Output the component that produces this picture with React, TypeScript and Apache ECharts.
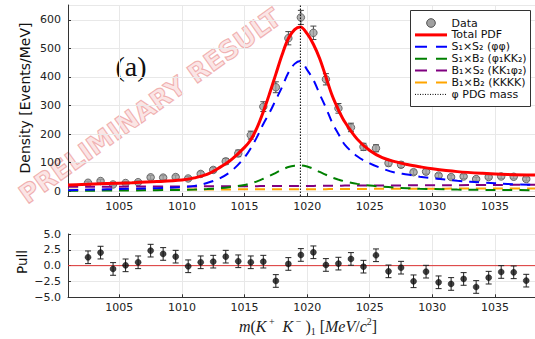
import React, { useEffect, useRef } from 'react';
import * as echarts from 'echarts';

// ---------- data ----------
const binCenters = [
  1002.5, 1003.5, 1004.5, 1005.5, 1006.5, 1007.5, 1008.5, 1009.5, 1010.5, 1011.5,
  1012.5, 1013.5, 1014.5, 1015.5, 1016.5, 1017.5, 1018.5, 1019.5, 1020.5, 1021.5,
  1022.5, 1023.5, 1024.5, 1025.5, 1026.5, 1027.5, 1028.5, 1029.5, 1030.5, 1031.5,
  1032.5, 1033.5, 1034.5, 1035.5, 1036.5, 1037.5,
];
const dataValues = [
  29, 35, 23, 28, 31, 48, 47, 49, 44, 60,
  74, 104, 132, 196, 296, 364, 536, 609, 555, 392,
  290, 223, 155, 150, 98, 92, 66, 68, 54, 49,
  51, 42, 49, 51, 50, 42,
];
const dataErrors = [
  5.4, 5.9, 4.8, 5.3, 5.6, 6.9, 6.9, 7, 6.6, 7.7,
  8.6, 10.2, 11.5, 14, 17.2, 19.1, 23.2, 24.7, 23.6, 19.8,
  17, 14.9, 12.4, 12.2, 9.9, 9.6, 8.1, 8.2, 7.3, 7,
  7.1, 6.5, 7, 7.1, 7.1, 6.5,
];
const pullValues = [
  1.32, 2.06, -0.52, 0.05, 0.53, 2.37, 1.85, 1.42, -0.1, 0.53,
  0.63, 1.42, 0.69, 0.53, 0.63, -2.42, 0.27, 1.69, 2.11, 0.11,
  0.32, 1.06, -0.16, 1.64, -0.9, -0.32, -2.47, -0.95, -2.63, -2.89,
  -2.1, -3.37, -1.9, -1.0, -1.05, -2.37,
];
const pullErrors = [
  1, 1, 1, 1, 1, 1, 1, 1, 1, 1,
  1, 1, 1, 1, 1, 1, 1, 1, 1, 1,
  1, 1, 1, 1, 1, 1, 1, 1, 1, 1,
  1, 1, 1, 1, 1, 1,
];

const modelX = [
  1000.9, 1002, 1004, 1006, 1008, 1010, 1011, 1012, 1013, 1014,
  1015, 1015.5, 1016, 1016.5, 1017, 1017.5, 1018, 1018.5, 1019, 1019.46,
  1020, 1020.5, 1021, 1021.5, 1022, 1022.5, 1023, 1024, 1025, 1026,
  1027, 1028, 1029, 1030, 1032, 1034, 1036, 1038.2,
];
const totalPdf = [
  21, 23, 26, 29, 33, 39, 46, 58, 82, 112,
  153, 180, 222, 278, 342, 410, 478, 535, 566, 575,
  552, 515, 465, 400, 335, 285, 243, 182, 142, 117,
  103, 93, 85, 78, 68, 62, 58, 56,
];
const s1s2 = [
  3, 4, 6, 8, 10, 14, 18, 28, 44, 72,
  118, 150, 190, 235, 275, 320, 365, 415, 446, 456,
  425, 390, 340, 292, 240, 200, 163, 122, 97, 79,
  65, 58, 50, 45, 36, 30, 25, 21,
];
const s1b2 = [
  1, 1, 1.5, 2, 3, 4, 5, 7, 10, 15,
  21, 27, 34, 43, 53, 64, 75, 84, 89, 90,
  86, 78, 67, 57, 47, 40, 34, 25, 19, 15,
  12, 10, 8, 7, 5, 4, 3.5, 3,
];
const b1s2 = [
  15, 15, 15, 15.5, 15.5, 16, 16, 16.5, 16.5, 17,
  17, 17, 17, 17.5, 17.5, 17.5, 17.5, 18, 18, 18,
  18, 18, 18.5, 18.5, 18.5, 18.5, 19, 19, 19, 19.5,
  19.5, 20, 20, 20, 20.5, 21, 21.5, 22,
];
const b1b2 = [
  4, 4, 4.5, 4.5, 5, 5, 5, 5.5, 5.5, 5.5,
  6, 6, 6, 6, 6, 6, 6, 6, 6.5, 6.5,
  6.5, 6.5, 6.5, 6.5, 7, 7, 7, 7, 7.5, 7.5,
  7.5, 8, 8, 8, 8.5, 8.5, 9, 9,
];
const phiPdgMass = [1019.461];
const yTickLabelsPull = [-5, -2.5, 0, 2.5, 5];

const legendLabels = [
  'Data',
  'Total PDF',
  'S₁×S₂ (φφ)',
  'S₁×B₂ (φ₁KK₂)',
  'B₁×S₂ (KK₁φ₂)',
  'B₁×B₂ (KKKK)',
  'φ PDG mass',
];

// ---------- layout constants ----------
const X_MIN = 1000.9;
const X_MAX = 1038.2;
const Y_MIN = -17.5;
const Y_MAX = 652.6;
const FONT = 'DejaVu Sans';

const zip = (xs: number[], ys: number[]) => xs.map((x, i) => [x, ys[i]]);

function errorBarRender(capHalf: number, color: string) {
  return (params: any, api: any) => {
    const x = api.value(0);
    const lo = api.coord([x, api.value(1)]);
    const hi = api.coord([x, api.value(2)]);
    const st = { stroke: color, lineWidth: 1 };
    return {
      type: 'group',
      children: [
        { type: 'line', shape: { x1: lo[0], y1: lo[1], x2: hi[0], y2: hi[1] }, style: st },
        { type: 'line', shape: { x1: lo[0] - capHalf, y1: lo[1], x2: lo[0] + capHalf, y2: lo[1] }, style: st },
        { type: 'line', shape: { x1: hi[0] - capHalf, y1: hi[1], x2: hi[0] + capHalf, y2: hi[1] }, style: st },
      ],
    };
  };
}

function buildOption(): any {
  const axisLine = { show: true, onZero: false, lineStyle: { color: '#333', width: 1 } };
  const splitLine = { show: true, lineStyle: { color: '#e8e8e8', width: 1 } };
  const axisTick = { show: true, inside: true, length: 3, lineStyle: { color: '#333' } };
  const labelBase = { color: '#222', fontSize: 11, fontFamily: FONT };

  const xAxisFor = (gridIndex: number) => ({
    type: 'value',
    gridIndex,
    min: X_MIN,
    max: X_MAX,
    splitNumber: 8,
    axisLine,
    axisTick,
    splitLine,
    axisLabel: {
      ...labelBase,
      margin: 5,
      showMinLabel: false,
      showMaxLabel: false,
      formatter: (v: number) => (Math.abs(v % 5) < 1e-6 ? String(v) : ''),
    },
  });

  const dashed = [10, 7];
  const curve = (name: string, ys: number[], color: string, width: number, type: any, z: number) => ({
    name,
    type: 'line',
    xAxisIndex: 0,
    yAxisIndex: 0,
    data: zip(modelX, ys),
    smooth: 0.35,
    showSymbol: false,
    symbol: 'none',
    silent: true,
    z,
    lineStyle: { color, width, type },
  });

  const legendY = [23, 34.9, 46.8, 58.7, 70.6, 82.5, 94.4];
  const lx1 = 415;
  const lx2 = 447;
  const legendEls: any[] = [
    {
      type: 'rect',
      shape: { x: 410.5, y: 10.5, width: 120, height: 96 },
      style: { fill: '#fff', stroke: '#333', lineWidth: 1 },
      z: 100,
    },
    {
      type: 'circle',
      shape: { cx: 431, cy: legendY[0], r: 4.3 },
      style: { fill: '#a0a0a0', stroke: '#505050', lineWidth: 1 },
      z: 101,
    },
    {
      type: 'line',
      shape: { x1: lx1, y1: legendY[1], x2: lx2, y2: legendY[1] },
      style: { stroke: '#ff0000', lineWidth: 3 },
      z: 101,
    },
  ];
  const dashColors = ['#0000ff', '#008000', '#800080', '#ffa500'];
  dashColors.forEach((c, i) => {
    legendEls.push({
      type: 'line',
      shape: { x1: lx1, y1: legendY[2 + i], x2: lx2, y2: legendY[2 + i] },
      style: { stroke: c, lineWidth: 2, lineDash: [12, 9] },
      z: 101,
    });
  });
  legendEls.push({
    type: 'line',
    shape: { x1: lx1, y1: legendY[6], x2: lx2, y2: legendY[6] },
    style: { stroke: '#000', lineWidth: 1, lineDash: [1, 1.5] },
    z: 101,
  });
  legendLabels.forEach((t, i) => {
    legendEls.push({
      type: 'text',
      x: 451.5,
      y: legendY[i],
      style: { text: t, fill: '#111', fontSize: 11, fontFamily: FONT, align: 'left', verticalAlign: 'middle' },
      z: 101,
    });
  });

  return {
    animation: false,
    backgroundColor: '#fff',
    grid: [
      { left: 68, top: 5, width: 467, height: 191, containLabel: false },
      { left: 68, top: 234, width: 467, height: 63.3, containLabel: false },
    ],
    xAxis: [xAxisFor(0), xAxisFor(1)],
    yAxis: [
      {
        type: 'value',
        gridIndex: 0,
        min: Y_MIN,
        max: Y_MAX,
        splitNumber: 6,
        axisLine,
        axisTick,
        splitLine,
        axisLabel: {
          ...labelBase,
          margin: 7,
          showMinLabel: false,
          showMaxLabel: false,
          formatter: (v: number) => (Math.abs(v % 100) < 1e-6 ? String(v) : ''),
        },
      },
      {
        type: 'value',
        gridIndex: 1,
        min: yTickLabelsPull[0],
        max: yTickLabelsPull[yTickLabelsPull.length - 1],
        interval: 2.5,
        axisLine,
        axisTick,
        splitLine,
        axisLabel: {
          ...labelBase,
          margin: 7,
          formatter: (v: number) => (v < 0 ? '−' : '') + Math.abs(v).toFixed(1),
        },
      },
    ],
    graphic: [
      {
        type: 'text',
        x: 150,
        y: 106,
        rotation: 0.62,
        z: -1,
        silent: true,
        style: {
          text: 'PRELIMINARY RESULT',
          fontSize: 26,
          fontWeight: 'bold',
          fontFamily: FONT,
          fill: 'rgba(235,120,120,0.20)',
          stroke: 'rgba(220,70,70,0.38)',
          lineWidth: 1.2,
          align: 'center',
          verticalAlign: 'middle',
        },
      },
      {
        type: 'text',
        x: 131,
        y: 66,
        style: {
          text: '(a)',
          fontSize: 28,
          fontFamily: 'Liberation Serif',
          fill: '#111',
          align: 'center',
          verticalAlign: 'middle',
        },
      },
      {
        type: 'text',
        x: 25,
        y: 98,
        rotation: Math.PI / 2,
        style: {
          text: 'Density [Events/MeV]',
          fontSize: 14,
          fontFamily: FONT,
          fill: '#111',
          align: 'center',
          verticalAlign: 'middle',
        },
      },
      {
        type: 'text',
        x: 22,
        y: 262,
        rotation: Math.PI / 2,
        style: {
          text: 'Pull',
          fontSize: 13.5,
          fontFamily: FONT,
          fill: '#111',
          align: 'center',
          verticalAlign: 'middle',
        },
      },
      {
        type: 'text',
        x: 308,
        y: 326,
        style: {
          text: '{i|m}{r|(}{i|K}{sup| +}{r|  }{i|K}{sup| −}{r| )}{sub|1}{r| [}{i|MeV}{r|/}{i|c}{sup|2}{r|]}',
          align: 'center',
          verticalAlign: 'middle',
          fill: '#222',
          rich: {
            i: { fontFamily: 'Liberation Serif', fontStyle: 'italic', fontSize: 16, lineHeight: 20, verticalAlign: 'middle', fill: '#222' },
            r: { fontFamily: 'Liberation Serif', fontSize: 16, lineHeight: 20, verticalAlign: 'middle', fill: '#222' },
            sup: { fontFamily: 'Liberation Serif', fontSize: 10, lineHeight: 12, verticalAlign: 'top', fill: '#222' },
            sub: { fontFamily: 'Liberation Serif', fontSize: 10, lineHeight: 10, verticalAlign: 'bottom', fill: '#222' },
          },
        },
      },
      ...legendEls,
    ],
    series: [
      {
        name: 'Data errors',
        type: 'custom',
        xAxisIndex: 0,
        yAxisIndex: 0,
        silent: true,
        z: 2,
        renderItem: errorBarRender(3, '#444'),
        encode: { x: 0, y: [1, 2] },
        data: binCenters.map((x, i) => [x, dataValues[i] - dataErrors[i], dataValues[i] + dataErrors[i]]),
      },
      {
        name: 'Data',
        type: 'scatter',
        xAxisIndex: 0,
        yAxisIndex: 0,
        symbol: 'circle',
        symbolSize: 7.5,
        silent: true,
        z: 3,
        itemStyle: { color: '#a0a0a0', borderColor: '#505050', borderWidth: 1 },
        data: zip(binCenters, dataValues),
      },
      curve('B₁×B₂ (KKKK)', b1b2, '#ffa500', 2, dashed, 4),
      curve('B₁×S₂ (KK₁φ₂)', b1s2, '#800080', 2, dashed, 4),
      curve('S₁×B₂ (φ₁KK₂)', s1b2, '#008000', 2, dashed, 4),
      curve('S₁×S₂ (φφ)', s1s2, '#0000ff', 2, dashed, 5),
      curve('Total PDF', totalPdf, '#ff0000', 3, 'solid', 6),
      {
        name: 'φ PDG mass',
        type: 'line',
        xAxisIndex: 0,
        yAxisIndex: 0,
        showSymbol: false,
        symbol: 'none',
        silent: true,
        z: 7,
        lineStyle: { color: '#000', width: 1, type: [1.5, 1.5] },
        data: [
          [phiPdgMass[0], Y_MIN],
          [phiPdgMass[0], Y_MAX],
        ],
      },
      {
        name: 'Zero',
        type: 'line',
        xAxisIndex: 1,
        yAxisIndex: 1,
        showSymbol: false,
        symbol: 'none',
        silent: true,
        z: 2,
        lineStyle: { color: '#dd3333', width: 1 },
        data: [
          [X_MIN, 0],
          [X_MAX, 0],
        ],
      },
      {
        name: 'Pull errors',
        type: 'custom',
        xAxisIndex: 1,
        yAxisIndex: 1,
        silent: true,
        z: 3,
        renderItem: errorBarRender(3, '#222'),
        encode: { x: 0, y: [1, 2] },
        data: binCenters.map((x, i) => [x, pullValues[i] - pullErrors[i], pullValues[i] + pullErrors[i]]),
      },
      {
        name: 'Pull',
        type: 'scatter',
        xAxisIndex: 1,
        yAxisIndex: 1,
        symbol: 'circle',
        symbolSize: 6,
        silent: true,
        z: 4,
        itemStyle: { color: '#111', borderColor: '#000', borderWidth: 0.5 },
        data: zip(binCenters, pullValues),
      },
    ],
  };
}

export default function App() {
  const ref = useRef<HTMLDivElement>(null);
  useEffect(() => {
    if (!ref.current) return;
    const chart = echarts.init(ref.current, null, { renderer: 'svg' });
    chart.setOption(buildOption());
    return () => chart.dispose();
  }, []);
  return (
    <div
      ref={ref}
      style={{ position: 'absolute', left: 0, top: 0, width: 535, height: 339, background: '#fff' }}
    />
  );
}
